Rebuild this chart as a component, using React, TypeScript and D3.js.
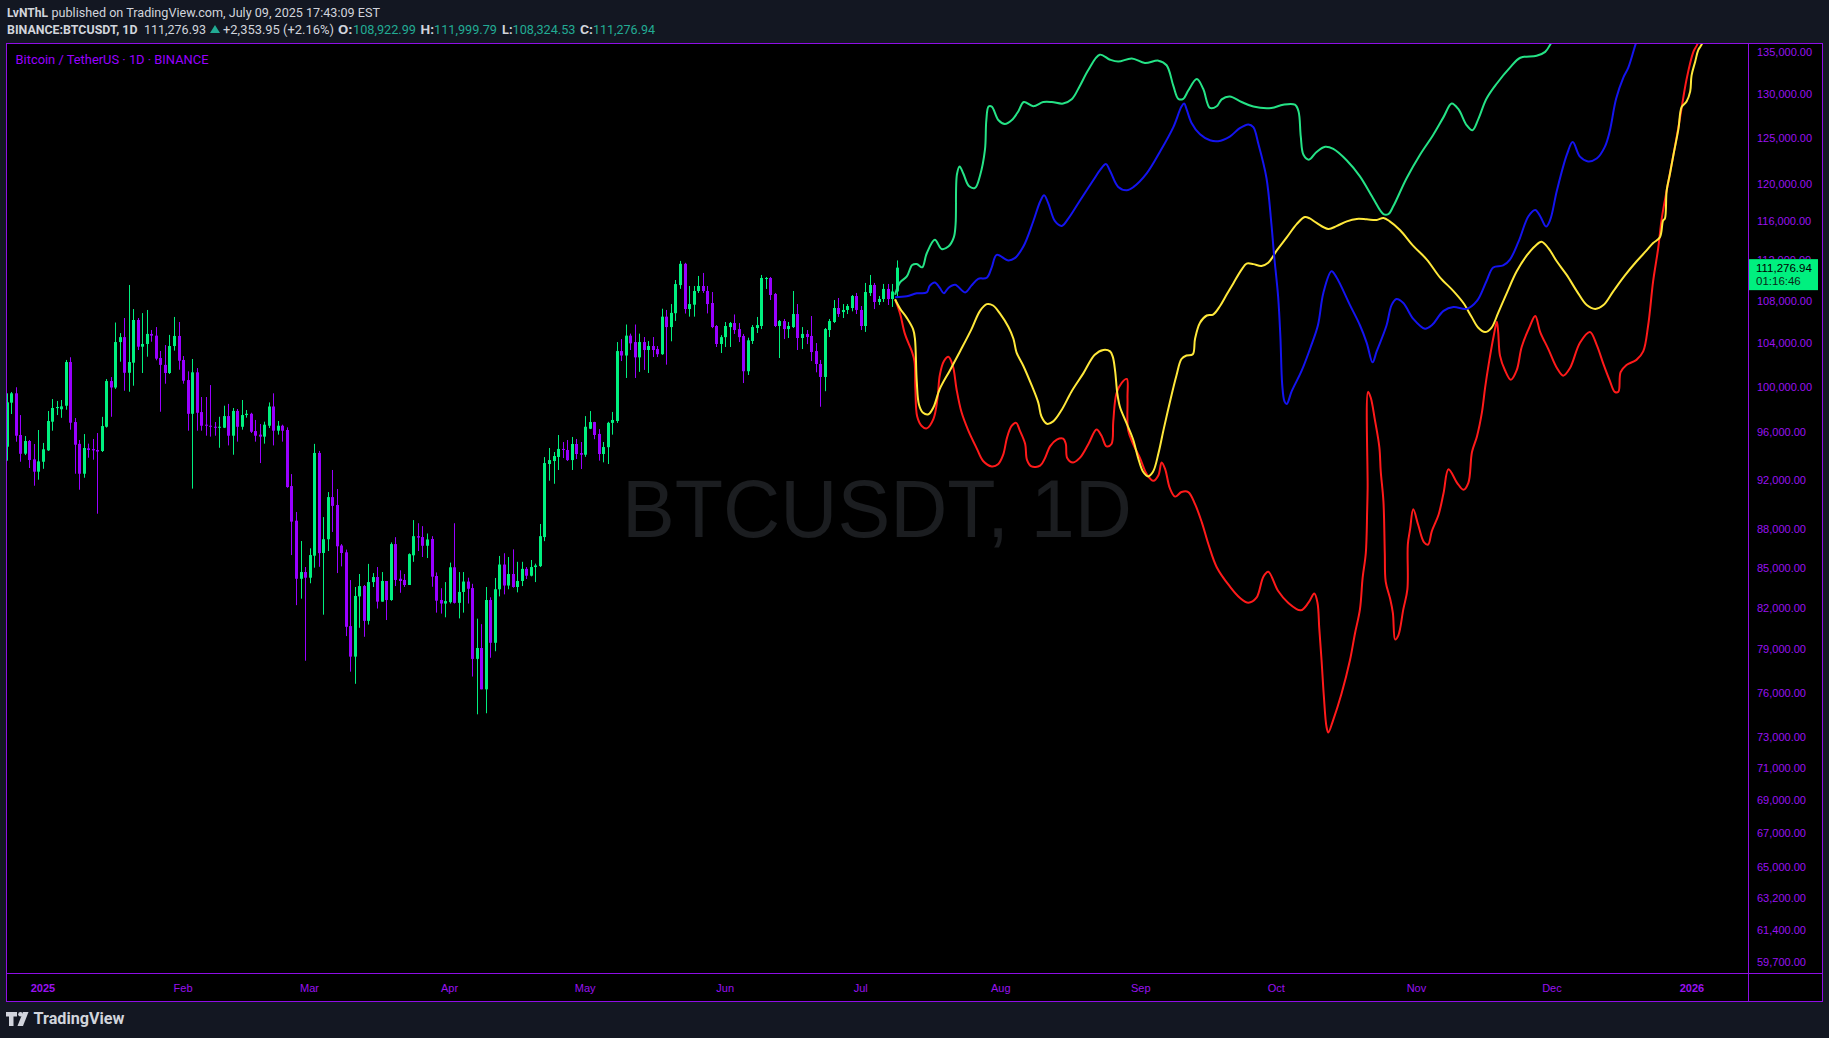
import React from "react";
import * as d3 from "d3";

const W = 1829;
const H = 1038;
const PLOT = { left: 6, right: 1748, top: 43, bottom: 973 };
const FRAME = { right: 1822, bottom: 1001 };

// ---------- daily candles, 2024-12-24 .. 2025-07-09 ----------
const firstCandle = Date.UTC(2024, 11, 24);
const opens = [
  94760, 98580, 99410, 95760, 94170, 95245, 93690, 92660,
  93490, 94450, 96910, 98100, 98000, 98310, 102240, 96880, 95000, 92490,
  94620, 94560, 94480, 94395, 96470, 100510, 99930, 104090, 104550, 101260,
  102180, 106170, 103660, 103910, 104850, 104690, 102610, 101980, 101240, 103720,
  104660, 102430, 100600, 97600, 101300, 97750, 96650, 96560, 96470, 96390,
  96390, 97400, 95700, 97850, 96470, 97490, 97600, 96100, 95790, 95620,
  96560, 98240, 96130, 96560, 96190, 91470, 88670, 84170, 84680, 84250,
  85930, 94230, 86140, 87210, 90570, 89930, 86720, 86190, 80670, 78490,
  82850, 83620, 81050, 83920, 84300, 82460, 84000, 82580, 86830, 84170,
  84080, 83700, 85960, 87450, 87380, 86700, 87230, 84380, 82580, 82320,
  82420, 85040, 82370, 83180, 83960, 83470, 78330, 79100, 76220, 82580,
  79470, 83380, 85250, 83660, 84530, 83550, 84000, 84920, 84400, 85060,
  85130, 87380, 93300, 93550, 93890, 94570, 94480, 93630, 94990, 94220,
  94080, 96300, 96880, 95850, 94140, 94720, 96810, 96970, 103250, 102840,
  104690, 104090, 102670, 104090, 103350, 103720, 103440, 102960, 106490, 105500,
  106820, 109550, 111660, 107220, 107640, 108970, 109460, 108970, 107800, 105600,
  103910, 104550, 105500, 105880, 105310, 104660, 101400, 104190, 105410, 105600,
  110150, 110250, 108680, 105600, 106070, 105310, 105500, 106740, 104470, 104850,
  104660, 103250, 102060, 100880, 105220, 105980, 107320, 106930, 107130, 107320,
  108480, 107130, 105600, 108770, 109560, 107900, 108190, 109170, 108190, 108922.99,
];
const highs = [
  99410, 99530, 99950, 97490, 95670, 95330, 94990, 96190,
  95080, 97845, 98900, 98730, 98815, 102430, 102680, 97230, 95330, 95840,
  95020, 95420, 95930, 97330, 100690, 100870, 105930, 104930, 106360, 109560,
  107220, 106360, 106830, 107130, 105220, 105500, 103260, 103810, 104760, 106460,
  105980, 102790, 101390, 102520, 101690, 99080, 99080, 100150, 96880, 97340,
  98310, 98470, 98110, 98020, 98815, 97930, 97690, 97060, 96710, 96910,
  98600, 99410, 96970, 96650, 96420, 92460, 89370, 87070, 85060, 86500,
  95000, 94400, 88960, 90980, 92800, 91230, 86830, 86400, 84070, 83550,
  84530, 83700, 85300, 84600, 85060, 84680, 84000, 86960, 87370, 84810,
  84530, 86110, 88720, 88470, 88240, 87660, 87450, 84650, 83460, 83920,
  85400, 88470, 84680, 84680, 84250, 83790, 81210, 80810, 83550, 82780,
  84230, 85910, 86120, 85830, 86420, 85460, 85460, 85060, 85600, 85320,
  88410, 93880, 94650, 94310, 95760, 95160, 95330, 95590, 95420, 95160,
  97400, 97840, 96900, 96270, 95160, 96900, 97760, 104090, 104370, 105740,
  104880, 105740, 104880, 104560, 104180, 104560, 103720, 107250, 107130, 107700,
  110050, 111950, 111760, 109460, 109460, 110450, 110750, 109460, 108870, 105690,
  104740, 105980, 105980, 106700, 105880, 104850, 104500, 105690, 106460, 110550,
  110350, 110350, 108780, 106170, 106270, 105980, 108970, 107700, 105500, 105220,
  106550, 104000, 102430, 105410, 106270, 108090, 108290, 107700, 107700, 108580,
  108780, 107510, 109760, 110550, 109760, 108480, 109660, 109660, 109660, 111999.79,
];
const lows = [
  93575, 97580, 95185, 93490, 94050, 92965, 91500, 91995,
  92900, 94395, 96130, 97490, 97250, 97960, 96220, 92490, 91170, 92160,
  93830, 93660, 89230, 94310, 96400, 97340, 99800, 102270, 99640, 99550,
  100090, 103350, 101240, 102730, 104120, 102400, 97780, 100270, 101150, 103290,
  101540, 100270, 96130, 91260, 96130, 96130, 95700, 95620, 95700, 94670,
  96360, 94870, 94080, 95190, 96220, 97260, 95930, 95190, 93380, 95020,
  96360, 94870, 95790, 95190, 91330, 85980, 82200, 82680, 78200, 83830,
  85010, 85080, 81500, 86290, 87780, 84600, 85110, 79950, 77440, 76600,
  80550, 79900, 80780, 83550, 81950, 82460, 81110, 82520, 83620, 83120,
  83550, 83700, 85460, 86290, 85830, 85750, 83570, 81650, 81580, 81310,
  82320, 82320, 81230, 81650, 82320, 77100, 74530, 76220, 74600, 78410,
  78870, 82850, 83000, 83380, 83500, 83150, 83620, 84150, 84350, 83920,
  85060, 87060, 91910, 91660, 92800, 93800, 93550, 92800, 93720, 92880,
  93900, 96270, 95400, 93580, 93440, 93300, 95790, 96800, 102330, 100790,
  103350, 100790, 101340, 101520, 101240, 102700, 102700, 102900, 102000, 104160,
  106080, 109180, 106790, 106490, 106490, 108780, 108780, 106800, 105400, 103630,
  103070, 103630, 103630, 104850, 104090, 100330, 101060, 103910, 104940, 105310,
  109170, 108090, 105500, 102610, 104370, 104470, 105410, 103350, 103440, 103900,
  102330, 101300, 98220, 99600, 104560, 105880, 106460, 106360, 106740, 107000,
  106740, 105220, 105040, 108480, 107220, 107610, 107900, 107610, 107420, 108324.53,
];
const closes = [
  98610, 99410, 95700, 94160, 95245, 93634, 92660, 93520,
  94540, 96970, 98110, 98200, 98250, 102240, 96820, 94930, 92490, 94650,
  94480, 94450, 94350, 96530, 100510, 99930, 104090, 104550, 101260, 102240,
  106170, 103660, 103910, 104850, 104690, 102550, 101980, 101240, 103720, 104660,
  102360, 100540, 97600, 101300, 97690, 96560, 96560, 96470, 96400, 96470,
  97400, 95700, 97850, 96470, 97490, 97600, 96040, 95700, 95620, 96650,
  98240, 96130, 96560, 96130, 91390, 88600, 84170, 84680, 84250, 85980,
  94230, 86130, 87210, 90570, 89860, 86660, 86140, 80620, 78490, 82880,
  83620, 81050, 83920, 84300, 82460, 84000, 82580, 86830, 84080, 84000,
  83700, 86050, 87450, 87340, 86700, 87190, 84330, 82530, 82320, 82500,
  85040, 82370, 83180, 83960, 83420, 78330, 79100, 76220, 82580, 79470,
  83380, 85250, 83660, 84530, 83550, 84000, 84920, 84400, 85060, 85180,
  87450, 93380, 93630, 93970, 94570, 94480, 93630, 94990, 94140, 94080,
  96470, 96880, 95760, 94140, 94730, 96810, 97060, 103250, 102840, 104690,
  103970, 102670, 104090, 103350, 103720, 103350, 102960, 106490, 105500, 106850,
  109650, 111660, 107220, 107700, 108970, 109460, 108970, 107700, 105500, 103910,
  104550, 105600, 105880, 105220, 104550, 101400, 104250, 105500, 105690, 110250,
  110250, 108580, 105600, 106070, 105310, 105600, 106740, 104470, 104850, 104560,
  103160, 102060, 100880, 105310, 106070, 107320, 106740, 107130, 107510, 108480,
  107130, 105600, 108870, 109560, 107900, 108190, 109170, 108190, 108922.98, 111276.94,
];

// ---------- projected paths: [days since 2025-01-01, price] ----------
const greenPath: [number, number][] = [
  [188.6, 108600], [189.7, 109815], [191.2, 110400], [192.4, 111540], [193.4, 111640], [194.6, 111310],
  [195.6, 112700], [197.4, 114100], [198.9, 113160], [200.4, 113400], [201.6, 114340], [202.0, 115700],
  [202.3, 121000], [202.9, 121850], [203.7, 121090], [205, 119700], [206.3, 119540], [207.4, 120850],
  [208.5, 123700], [208.8, 127000], [209.3, 128580], [210, 128580], [211.5, 127010], [212.9, 126590],
  [214.4, 127010], [215.9, 128050], [217.1, 129110], [219.2, 128620], [221.4, 129110], [223.3, 129110],
  [225.8, 128930], [227.7, 129420], [229.5, 130990], [231.4, 132900], [233.9, 134710], [236.2, 134100],
  [238, 133880], [241, 134260], [243.9, 133710], [246.9, 133990], [248.7, 133440], [250.2, 130990],
  [251.3, 129480], [252.4, 129480], [253.5, 130450], [255.4, 131800], [256.8, 130650], [258.3, 128420],
  [259.8, 128620], [260.9, 129420], [262.7, 129750], [265.3, 129110], [267.9, 128580], [271.9, 128420],
  [274.5, 128800], [277.1, 128800], [277.9, 128050], [278.4, 125190], [279, 123140], [280.2, 122600],
  [281.9, 123450], [283.8, 124020], [285.6, 123780], [288.6, 122500], [291.5, 120770], [294.4, 118430],
  [296.7, 116760], [297.8, 116760], [298.9, 117600], [301.8, 120550], [304.8, 123150], [307.7, 125350],
  [310, 127370], [311.8, 128940], [313.3, 128280], [315.1, 126470], [316.4, 125880], [317.7, 127140],
  [319.5, 129480], [321.8, 131270], [324.7, 133150], [327, 134340], [330.6, 134580], [332.5, 135050],
  [333.6, 135930], [335.5, 138000],
];
const bluePath: [number, number][] = [
  [188.6, 108370], [191.2, 108460], [193.4, 108740], [195.6, 108830], [196.3, 109500], [197.4, 109810],
  [198.5, 109270], [199.4, 108740], [200.4, 109270], [201.9, 109590], [204.1, 108830], [205.5, 109500],
  [207, 110170], [208.9, 110270], [210, 111310], [211.1, 112560], [213.7, 112000], [215.1, 112230],
  [217, 113400], [219.2, 116010], [220.7, 118060], [221.6, 118750], [222.5, 117910], [224, 116010],
  [225.5, 115520], [226.9, 116250], [229.5, 118160], [232.5, 120380], [234, 121470], [235.3, 122110],
  [236.2, 121360], [238, 119640], [239.9, 119290], [241.4, 119640], [244.3, 121100], [247.2, 123440],
  [250.2, 126230], [252, 128580], [252.6, 128930], [253.1, 128320], [254.2, 126740], [256.1, 125420],
  [258.3, 124750], [260.1, 124650], [262.7, 125170], [264.9, 126120], [266.8, 126540], [267.9, 126230],
  [269, 124390], [270.8, 120630], [271.9, 115740], [272.5, 112500], [273.4, 108370], [273.9, 104500],
  [274.3, 100160], [274.8, 98700], [275.3, 98460], [276.4, 99600], [278.6, 101450], [280.6, 103630],
  [282.2, 105670], [283.4, 108770], [285.2, 110910], [286.3, 110320], [289.3, 107600], [291.5, 105670],
  [293, 104020], [294.3, 102210], [295.2, 103220], [297.4, 105670], [298.5, 107600], [299.6, 108190],
  [301.1, 107800], [303.3, 106280], [305.9, 105340], [307.4, 105670], [310, 107040], [312.2, 107420],
  [315.1, 107230], [317.4, 108000], [319.5, 109930], [321, 111300], [323.2, 111500], [324.7, 112090],
  [326.6, 113900], [328.8, 116530], [330.3, 117190], [331.4, 116530], [332.7, 115460], [333.6, 116140],
  [335.1, 119260], [337.3, 123150], [338.6, 124550], [340.2, 122930], [342, 122410], [343.9, 122720],
  [345.7, 124020], [346.8, 125790], [348.2, 129480], [349.8, 131970], [350.9, 133150], [352.4, 135780],
  [354, 138500],
];
const yellowPath: [number, number][] = [
  [188.6, 108160], [189.7, 107260], [191.2, 106370], [192.6, 105280], [193, 104400], [193.4, 100500],
  [193.9, 98400], [194.8, 97690], [196, 97560], [197.1, 98170], [198.5, 99800], [200.7, 101450],
  [203, 103240], [205.5, 105280], [207.4, 107040], [208.9, 107690], [210.3, 107560], [211.8, 106800],
  [213.7, 105500], [214.8, 104400], [215.5, 103110], [217, 101880], [218.8, 100160], [220.3, 98580],
  [221, 97360], [222.2, 96730], [223.6, 96940], [225.5, 97960], [227.7, 99600], [230.3, 101230],
  [232.8, 102910], [234.7, 103360], [236.2, 103220], [236.8, 102710], [237.3, 101450], [237.8, 99390],
  [238.4, 98170], [239.9, 96730], [241.3, 95370], [242.4, 93810], [243.5, 92650], [244.6, 92270],
  [245.7, 92650], [246.9, 94200], [248, 96160], [249.4, 98580], [250.9, 101040], [252, 102520],
  [253.1, 102840], [254.5, 102960], [255, 104400], [256.1, 105910], [257.6, 106600], [259, 106690],
  [260.5, 107490], [262, 108620], [263.5, 109740], [265.3, 111080], [266.4, 111680], [267.9, 111630],
  [269.7, 111450], [271.2, 111760], [273.1, 113020], [275.3, 114340], [277.5, 115710], [279.3, 116450],
  [280.4, 116300], [281.9, 115830], [284.5, 115210], [286.3, 115500], [288.6, 116000], [290.8, 116250],
  [293, 116210], [295.2, 116140], [296.7, 116350], [298.1, 116000], [300.4, 115080], [303.3, 113470],
  [306.3, 112090], [309.2, 110320], [312.2, 108960], [314.4, 107800], [316.2, 106480], [317.7, 105430],
  [319.2, 105030], [320.6, 105430], [322.1, 106850], [324, 108770], [326.2, 110910], [328.4, 112480],
  [330.3, 113470], [331.7, 113900], [333.2, 113250], [335.1, 111890], [337.3, 110530], [339.5, 108960],
  [341.7, 107600], [343.6, 107230], [345.4, 107600], [347.6, 108960], [350.2, 110530], [352.7, 111890],
  [354.9, 112990], [356.4, 113760], [357.9, 114350], [358.6, 116080], [359, 116290], [359.4, 119260],
  [360.1, 121000], [360.9, 123150], [362, 126040], [362.7, 128510], [363.8, 129180], [364.6, 130350],
  [364.9, 132210], [365.7, 133870], [366.4, 135290], [367.2, 136010], [368, 138000],
];
const redPath: [number, number][] = [
  [188.6, 108160], [189.7, 106800], [190.8, 104830], [192.3, 103240], [192.9, 102310], [193.1, 99800],
  [193.5, 97360], [194.5, 96540], [195.6, 96330], [197.1, 97160], [198, 98980], [198.5, 101040],
  [199.4, 102310], [200.4, 102730], [201.4, 101880], [202.2, 99800], [203.3, 97750], [204.8, 96160],
  [206.7, 94600], [208.1, 93550], [210, 93100], [211.4, 93280], [212.5, 94040], [213.4, 95560],
  [214.4, 96540], [215.4, 96810], [216.2, 96160], [217.4, 94990], [217.8, 93650], [218.8, 93100],
  [220.7, 93160], [221.8, 93810], [222.9, 94790], [224.4, 95370], [225.8, 95450], [226.4, 94990],
  [226.7, 93810], [228, 93430], [229.5, 93810], [231.4, 94990], [233.2, 96240], [234.3, 95690],
  [235.4, 94790], [236.5, 94990], [236.9, 96940], [237.6, 99390], [238.8, 100370], [239.9, 100700],
  [240.05, 98980], [240.2, 96160], [241.3, 94990], [242.8, 93810], [244.3, 92460], [245.8, 91900],
  [246.9, 92360], [247.6, 93430], [248.4, 92860], [249.4, 91320], [250.6, 90610], [252, 90980],
  [253.5, 90980], [255, 90000], [256.5, 88540], [258, 86780], [259.8, 85050], [262.7, 83590],
  [264.9, 82750], [266.8, 82380], [268.6, 82750], [270.1, 84310], [271.2, 84700], [273.4, 83250],
  [275.6, 82380], [278.4, 81820], [280.1, 82380], [281.4, 83070], [282.1, 82380], [282.5, 80500],
  [283, 78250], [283.5, 75800], [284.1, 73700], [284.5, 73320], [285.5, 74080], [287.4, 75900],
  [289.3, 78250], [290.4, 80140], [291.5, 81890], [292.1, 84250], [292.8, 86140], [293.1, 89520],
  [293.2, 91290], [293.3, 99540], [293.9, 99010], [294.8, 97090], [295.8, 94710], [296.1, 92700],
  [296.7, 90220], [297, 86140], [297.2, 83960], [298.2, 82650], [298.8, 81600], [299.3, 79700],
  [300, 80000], [301.1, 81890], [302, 83370], [302.1, 86790], [302.6, 88000], [303.3, 89580],
  [304.4, 88330], [305.7, 86960], [306.6, 86800], [307.4, 87830], [308.9, 89150], [310, 90880],
  [311.1, 92860], [313, 91740], [314.4, 91170], [315.5, 91740], [316.3, 94310], [317.4, 95640],
  [318.5, 97720], [319.2, 99900], [320, 102050], [321.1, 104660], [321.8, 106000], [322.1, 105030],
  [322.5, 102830], [323.6, 101490], [324.9, 100620], [326.2, 101490], [327.3, 103630], [329.1, 105570],
  [330.3, 106550], [331.4, 105030], [333.2, 103430], [335.1, 101690], [336.5, 101000], [338, 101690],
  [340.2, 104020], [342.4, 105030], [343.9, 103830], [345.4, 102050], [346.8, 100550], [347.9, 99540],
  [348.7, 99540], [349.2, 101310], [350.5, 101970], [352.7, 102440], [354.2, 103220], [355.3, 105670],
  [356.4, 109930], [357.5, 113180], [358.3, 116290], [359.4, 119260], [360.9, 123150], [362.3, 127140],
  [363.8, 131780], [365.3, 135050], [366.2, 136010], [367, 138000],
];

// ---------- axes ----------
const priceTicks = [
  135000, 130000, 125000, 120000, 116000, 112000, 108000, 104000, 100000, 96000, 92000, 88000,
  85000, 82000, 79000, 76000, 73000, 71000, 69000, 67000, 65000, 63200, 61400, 59700,
];
const monthLabels = ["2025", "Feb", "Mar", "Apr", "May", "Jun", "Jul", "Aug", "Sep", "Oct", "Nov", "Dec", "2026"];
const lastPrice = 111276.94;
const countdown = "01:16:46";

const COL = {
  page: "#131722",
  frame: "#8f0ee6",
  axisText: "#9a12f0",
  up: "#00f07f",
  down: "#9900ff",
  header: "#d1d4dc",
  teal: "#22ab94",
};

const DAY = 86400000;
const yearStart = Date.UTC(2025, 0, 1);
const dayDate = (d: number) => new Date(yearStart + d * DAY);

export default function App() {
  const x = d3.scaleUtc().domain([dayDate(0), dayDate(365)]).range([43, 1692]);
  const y = d3.scaleLog().domain([59090, 136131]).range([PLOT.bottom, PLOT.top]);
  const fmt = d3.format(",.2f");

  const line = d3
    .line<[number, number]>()
    .x((p) => x(dayDate(p[0])))
    .y((p) => y(p[1]))
    .curve(d3.curveCatmullRom.alpha(0.5));

  const candles = opens.map((o, i) => ({
    date: new Date(firstCandle + i * DAY),
    o,
    h: highs[i],
    l: lows[i],
    c: closes[i],
  }));

  const projections = [
    { data: redPath, color: "#ff1a1a" },
    { data: yellowPath, color: "#ffe83a" },
    { data: bluePath, color: "#1414f0" },
    { data: greenPath, color: "#25e386" },
  ];

  const months = monthLabels.map((label, i) => ({
    label,
    date: new Date(Date.UTC(2025, i, 1)),
    bold: i === 0 || i === 12,
  }));

  const yLast = y(lastPrice);
  const headFont = "Roboto, 'Liberation Sans', sans-serif";
  const axisFont = "'Liberation Sans', Arial, sans-serif";

  return (
    <div style={{ position: "absolute", left: 0, top: 0, width: W, height: H }}>
      <svg width={W} height={H} style={{ display: "block" }}>
        <defs>
          <clipPath id="plotClip">
            <rect x={PLOT.left} y={PLOT.top} width={PLOT.right - PLOT.left} height={PLOT.bottom - PLOT.top} />
          </clipPath>
          <clipPath id="axisClip">
            <rect x={PLOT.right} y={PLOT.top} width={FRAME.right - PLOT.right} height={yLast - 8.5 - PLOT.top} />
            <rect x={PLOT.right} y={yLast + 22.5} width={FRAME.right - PLOT.right} height={PLOT.bottom - yLast - 22.5} />
          </clipPath>
        </defs>
        <rect width={W} height={H} fill={COL.page} />
        <rect x={PLOT.left} y={PLOT.top} width={FRAME.right - PLOT.left} height={FRAME.bottom - PLOT.top} fill="#000" />

        {/* header */}
        <g fontFamily={headFont} fontSize={12.5} fill={COL.header}>
          <text x={7} y={16.5} fontWeight={700} textLength={41} lengthAdjust="spacingAndGlyphs">LvNThL</text>
          <text x={51.5} y={16.5} textLength={328.5} lengthAdjust="spacingAndGlyphs">
            published on TradingView.com, July 09, 2025 17:43:09 EST
          </text>
          <text x={7} y={33.5} fontWeight={700} textLength={130.5} lengthAdjust="spacingAndGlyphs">BINANCE:BTCUSDT, 1D</text>
          <text x={144} y={33.5} textLength={62} lengthAdjust="spacingAndGlyphs">111,276.93</text>
          <path d="M210,33 L220,33 L215,25 Z" fill={COL.teal} />
          <text x={223} y={33.5} textLength={111} lengthAdjust="spacingAndGlyphs">+2,353.95 (+2.16%)</text>
          <text x={338} y={33.5} fontWeight={700} textLength={14.5} lengthAdjust="spacingAndGlyphs">O:</text>
          <text x={353} y={33.5} fill={COL.teal} textLength={63} lengthAdjust="spacingAndGlyphs">{fmt(opens[opens.length - 1])}</text>
          <text x={420.5} y={33.5} fontWeight={700} textLength={13.5} lengthAdjust="spacingAndGlyphs">H:</text>
          <text x={434} y={33.5} fill={COL.teal} textLength={63} lengthAdjust="spacingAndGlyphs">{fmt(highs[highs.length - 1])}</text>
          <text x={502} y={33.5} fontWeight={700} textLength={10.5} lengthAdjust="spacingAndGlyphs">L:</text>
          <text x={512.5} y={33.5} fill={COL.teal} textLength={63} lengthAdjust="spacingAndGlyphs">{fmt(lows[lows.length - 1])}</text>
          <text x={580} y={33.5} fontWeight={700} textLength={13} lengthAdjust="spacingAndGlyphs">C:</text>
          <text x={593} y={33.5} fill={COL.teal} textLength={62} lengthAdjust="spacingAndGlyphs">{fmt(closes[closes.length - 1])}</text>
        </g>

        {/* watermark */}
        <text
          x={622}
          y={537}
          fontFamily="'Liberation Sans', Arial, sans-serif"
          fontSize={82}
          fill="#1b1d20"
          textLength={510}
          lengthAdjust="spacingAndGlyphs"
        >
          BTCUSDT, 1D
        </text>

        <text x={15.5} y={64} fontFamily={headFont} fontSize={12.5} fill="#9900ff" textLength={193} lengthAdjust="spacingAndGlyphs">
          Bitcoin / TetherUS · 1D · BINANCE
        </text>

        {/* candles */}
        <g clipPath="url(#plotClip)">
          {candles.map((k, i) => {
            const cx = Math.round(x(k.date));
            const up = k.c >= k.o;
            const col = up ? COL.up : COL.down;
            const top = y(Math.max(k.o, k.c));
            const bot = y(Math.min(k.o, k.c));
            return (
              <g key={i}>
                <line x1={cx + 0.5} x2={cx + 0.5} y1={y(k.h)} y2={y(k.l)} stroke={col} strokeWidth={1} />
                <rect x={cx - 1} y={top} width={3} height={Math.max(1, bot - top)} fill={col} />
              </g>
            );
          })}
          {projections.map((p, i) => (
            <path key={i} d={line(p.data) || ""} fill="none" stroke={p.color} strokeWidth={2} strokeLinejoin="round" />
          ))}
        </g>

        {/* frame */}
        <g stroke={COL.frame} strokeWidth={1} fill="none" shapeRendering="crispEdges">
          <rect x={PLOT.left + 0.5} y={PLOT.top + 0.5} width={FRAME.right - PLOT.left} height={FRAME.bottom - PLOT.top} />
          <line x1={PLOT.left} x2={FRAME.right} y1={PLOT.bottom + 0.5} y2={PLOT.bottom + 0.5} />
          <line x1={PLOT.right + 0.5} x2={PLOT.right + 0.5} y1={PLOT.top} y2={FRAME.bottom} />
        </g>

        {/* price axis (labels under the last-price tag are clipped away, as in the app) */}
        <g fontFamily={axisFont} fontSize={11} fill={COL.axisText} clipPath="url(#axisClip)">
          {priceTicks.map((v) => (
            <text key={v} x={1757} y={y(v)} dominantBaseline="central">
              {fmt(v)}
            </text>
          ))}
        </g>

        {/* time axis */}
        <g fontFamily={axisFont} fontSize={11} fill={COL.axisText} textAnchor="middle">
          {months.map((m) => (
            <text key={m.label} x={x(m.date)} y={987.5} dominantBaseline="central" fontWeight={m.bold ? 700 : 400}>
              {m.label}
            </text>
          ))}
        </g>

        {/* last price label */}
        <rect x={1749} y={yLast - 8.5} width={69} height={31} fill={COL.up} />
        <text x={1756} y={yLast + 0.5} fontFamily={axisFont} fontSize={11.5} fill="#000" dominantBaseline="central">
          {fmt(lastPrice)}
        </text>
        <text x={1756} y={yLast + 13.5} fontFamily={axisFont} fontSize={11.5} fill="#0a2a18" dominantBaseline="central">
          {countdown}
        </text>

        {/* footer logo */}
        <g fill={COL.header}>
          <path d="M6,1012 h11 v4.5 h-3.5 v9.5 h-4.5 v-9.5 h-3 z" />
          <circle cx={20.5} cy={1014.3} r={2.3} />
          <path d="M23,1012 h5.5 l-5.5 14 h-5.5 z" />
          <text x={33.5} y={1024} fontFamily={headFont} fontSize={16} fontWeight={700} textLength={91} lengthAdjust="spacingAndGlyphs">
            TradingView
          </text>
        </g>
      </svg>
    </div>
  );
}
